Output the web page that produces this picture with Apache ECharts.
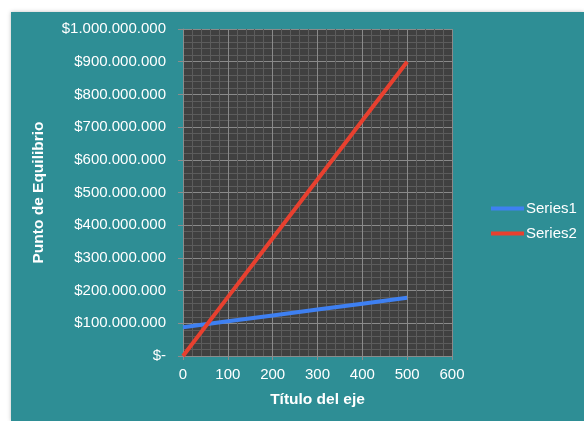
<!DOCTYPE html>
<html><head><meta charset="utf-8">
<script src="https://cdn.jsdelivr.net/npm/echarts@6/dist/echarts.min.js"></script>
<style>html,body{margin:0;padding:0;background:#fff;}#c{width:584px;height:421px;}</style>
</head><body><div id="c"></div>
<script>
const xValues = [0, 100, 200, 300, 400, 500];
const series1 = [88000000, 106000000, 124000000, 142000000, 160000000, 178000000];
const series2 = [0, 180000000, 360000000, 540000000, 720000000, 900000000];
const seriesNames = ['Series1', 'Series2'];
const xTitle = 'Título del eje';
const yTitle = 'Punto de Equilibrio';

function fmtMoney(v) {
  if (v === 0) return '$-';
  return '$' + String(Math.round(v)).replace(/\B(?=(\d{3})+(?!\d))/g, '.');
}

const chart = echarts.init(document.getElementById('c'), null, {renderer: 'canvas'});
chart.setOption({
  backgroundColor: 'transparent',
  animation: false,
  textStyle: {fontFamily: 'Liberation Sans, Arial, sans-serif'},
  graphic: [{
    type: 'rect', z: -10, silent: true,
    shape: {x: 11, y: 12, width: 573, height: 409},
    style: {fill: '#2E8E95', shadowBlur: 4, shadowColor: 'rgba(0,0,0,0.25)'}
  }],
  grid: {left: 183, top: 29, width: 269, height: 327, show: true, backgroundColor: '#404040', borderWidth: 0},
  legend: {
    orient: 'vertical', left: 486, top: 196, itemGap: 10, itemWidth: 33, itemHeight: 4,
    icon: 'rect',
    textStyle: {color: '#fff', fontSize: 15, padding: [0, 0, 0, -3]},
    data: seriesNames
  },
  xAxis: {
    type: 'value', min: 0, max: 600, interval: 100,
    name: xTitle, nameLocation: 'middle', nameGap: 36,
    nameTextStyle: {color: '#fff', fontSize: 15.5, fontWeight: 'bold'},
    axisLine: {show: true, lineStyle: {color: '#8c8c8c'}},
    axisTick: {show: true, length: 4, lineStyle: {color: '#8c8c8c'}},
    axisLabel: {color: '#fff', fontSize: 15, margin: 11},
    splitLine: {show: true, lineStyle: {color: '#8a8a8a', width: 1}},
    minorTick: {show: false, splitNumber: 5},
    minorSplitLine: {show: true, lineStyle: {color: '#5c5c5c', width: 1}}
  },
  yAxis: {
    type: 'value', min: 0, max: 1000000000, interval: 100000000,
    name: yTitle, nameLocation: 'middle', nameGap: 136, nameRotate: 90,
    nameTextStyle: {color: '#fff', fontSize: 15.5, fontWeight: 'bold'},
    axisLine: {show: true, lineStyle: {color: '#8c8c8c'}},
    axisTick: {show: true, length: 5, lineStyle: {color: '#8c8c8c'}},
    axisLabel: {color: '#fff', fontSize: 15, margin: 17, formatter: fmtMoney},
    splitLine: {show: true, lineStyle: {color: '#8a8a8a', width: 1}},
    minorTick: {show: false, splitNumber: 5},
    minorSplitLine: {show: true, lineStyle: {color: '#5c5c5c', width: 1}}
  },
  series: [
    {name: seriesNames[0], type: 'line', data: xValues.map((x, i) => [x, series1[i]]),
     showSymbol: false, symbol: 'none', lineStyle: {color: '#3E80F2', width: 4}, itemStyle: {color: '#3E80F2'}},
    {name: seriesNames[1], type: 'line', data: xValues.map((x, i) => [x, series2[i]]),
     showSymbol: false, symbol: 'none', lineStyle: {color: '#E8402F', width: 4}, itemStyle: {color: '#E8402F'}}
  ]
});
</script></body></html>
